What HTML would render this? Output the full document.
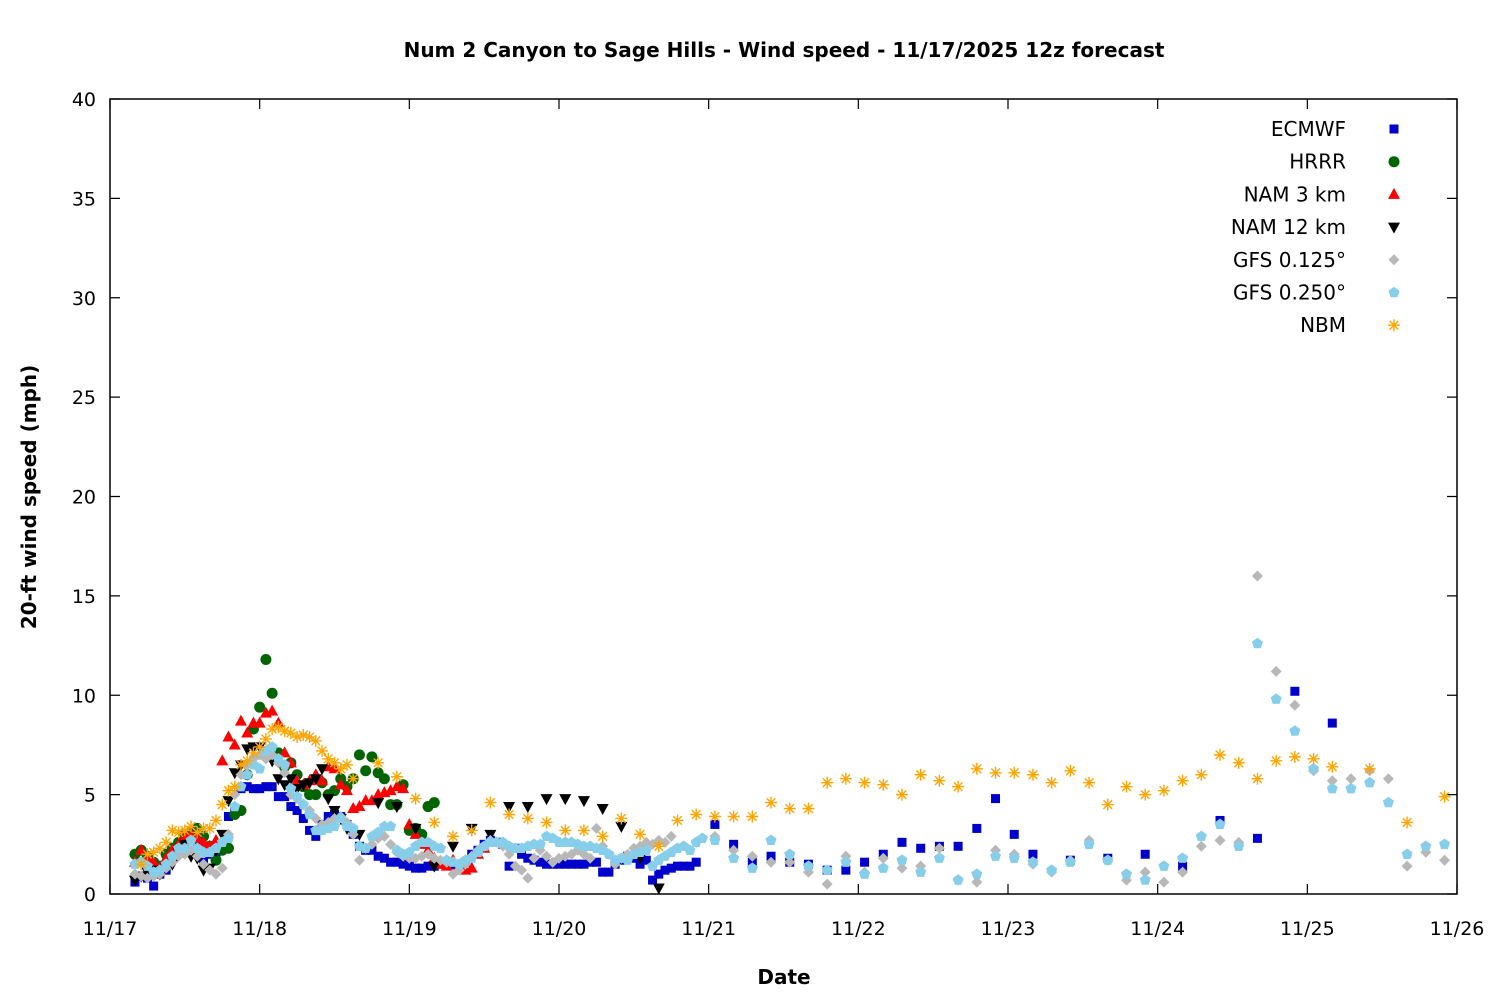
<!DOCTYPE html>
<html><head><meta charset="utf-8"><style>
body{margin:0;background:#fff}
svg{font-family:"DejaVu Sans","Liberation Sans",sans-serif}
</style></head><body>
<svg id="c" width="1500" height="1000" viewBox="0 0 1500 1000">
<rect width="1500" height="1000" fill="#fff"/>
<text x="784" y="57" text-anchor="middle" font-size="20" font-weight="bold">Num 2 Canyon to Sage Hills - Wind speed - 11/17/2025 12z forecast</text>
<text transform="translate(36,497) rotate(-90)" text-anchor="middle" font-size="20" font-weight="bold">20-ft wind speed (mph)</text>
<text x="784" y="984" text-anchor="middle" font-size="20" font-weight="bold">Date</text>
<g id="axes"></g>
<g id="marks"></g>
<g id="legend"></g>
<rect x="110" y="99" width="1347" height="795" fill="none" stroke="#000" stroke-width="1.5"/>
</svg>
<script>
const yTicks=[0,5,10,15,20,25,30,35,40];
const xTickLabels=["11/17","11/18","11/19","11/20","11/21","11/22","11/23","11/24","11/25","11/26"];
const seriesNames=["ECMWF","HRRR","NAM 3 km","NAM 12 km","GFS 0.125°","GFS 0.250°","NBM"];
// each segment: start hour, step hours, values (mph)
const ecmwfS1=[.6,.9,.8,.4,1.0,1.2,1.9,2.2,2.6,2.7,2.5,1.6,2.0,2.1,2.5,3.9,4.2,5.3,5.4,5.3,5.3,5.4,5.4,4.9,4.9,4.4,4.2,3.8,3.2,2.9,3.5,3.9,4.0,3.9,3.5,3.0,2.4,2.2,2.2,1.9,1.8,1.6,1.6,1.5,1.4,1.3,1.3,1.4,1.4,1.5,1.6,1.4,1.5,1.6,2.0,2.2,2.5,2.7,2.6,2.5,1.4,2.3,2.0,1.8,1.7,1.6,1.5,1.5,1.5,1.5,1.5,1.5,1.5,1.6,1.6,1.1,1.1,1.5,1.7,1.9,1.8,1.5,1.7,.7,1.0,1.2,1.3,1.4,1.4,1.4,1.6];
const ecmwfS2=[3.5,2.5,1.6,1.9,1.6,1.5,1.2,1.2,1.6,2.0,2.6,2.3,2.4,2.4,3.3,4.8,3.0,2.0];
const ecmwfS3=[1.7,1.8,2.0,1.4,3.7,2.8,10.2,8.6];
const hrrrS1=[2.0,2.2,1.9,1.6,1.4,2.0,2.3,2.6,3.0,3.1,3.3,2.9,2.4,1.7,2.2,2.3,4.0,4.2,6.0,8.3,9.4,11.8,10.1,7.1,6.4,6.6,6.0,5.4,5.0,5.0,5.6,5.0,5.2,5.8,5.4,5.8,7.0,6.2,6.9,6.1,5.8,4.5,4.5,5.5,3.2,3.3,3.0,4.4,4.6];
const nam3S1=[1.6,2.2,1.8,1.6,1.3,1.8,2.2,2.5,2.9,3.0,2.8,2.6,2.4,2.7,6.7,7.9,7.5,8.7,8.1,8.6,8.6,9.1,9.2,8.6,7.1,6.6,5.7,5.5,5.7,6.0,5.7,6.4,6.3,5.5,5.2,4.3,4.4,4.7,4.7,5.0,5.1,5.2,5.4,5.3,3.5,3.0,2.5,2.2,1.8,1.5,1.4,1.7,1.4,1.2,1.3,2.0,2.3];
const nam12S1=[.7,.9,1.1,1.2,1.0,1.3,1.5,2.1,2.5,1.9,1.8,1.2,1.3,2.2,3.0,4.7,6.1,6.5,7.3,7.4,7.4,7.0,6.7,5.8,5.5,5.8,5.3,5.5,5.6,5.8,6.3,4.8,4.2,3.8,3.3];
const nam12S2=[3.0,4.6,4.4,3.3,1.4,2.4,3.3,3.0,4.4,4.4,4.8,4.8,4.7,4.3,3.4,1.8,0.3];
const gfs125S1=[1.0,0.9,0.8,0.9,1.0,1.3,1.6,1.9,2.0,2.2,1.9,1.5,1.2,1.0,1.3,3.0,5.0,6.0,6.5,6.8,7.0,6.8,7.0,6.6,6.1,5.0,4.8,4.5,4.2,3.8,3.5,3.6,3.8,3.9,3.6,3.0,1.7,2.3,2.5,2.8,2.9,2.5,2.1,1.9,1.8,1.8,1.9,2.0,1.8,1.7,1.6,1.0,1.2,1.5,1.9,2.2,2.4,2.7,2.6,2.4,2.0,1.4,1.2,0.8,1.8,2.2,1.9,1.6,1.8,1.9,2.0,2.2,2.0,1.8,3.3,2.4,2.0,1.5,1.8,2.0,2.3,2.4,2.6,2.5,2.7,2.6,2.9];
const gfs125S2=[2.6,2.9,2.2,1.9,1.6,1.6,1.1,0.5,1.9,1.1,1.8,1.3,1.4,2.3,0.7,0.6,2.2,2.0,1.5,1.1,1.7,2.7,1.7,0.7,1.1,0.6,1.1,2.4,2.7,2.6,16.0,11.2,9.5,6.2,5.7,5.8,6.2,5.8,1.4,2.1,1.7];
const gfs25S1=[1.5,1.6,1.4,1.1,1.2,1.5,1.9,2.3,2.3,2.7,2.3,2.1,2.1,2.3,2.6,2.8,4.4,5.4,6.0,6.5,6.3,7.2,7.4,6.8,6.5,5.3,4.9,4.5,4.0,3.2,3.2,3.3,3.4,3.8,3.4,3.3,2.4,2.3,2.9,3.1,3.4,3.4,2.2,2.0,2.1,2.4,2.6,2.6,2.4,2.3,1.7,1.6,1.5,1.7,1.8,2.1,2.4,2.6,2.6,2.6,2.4,2.3,2.3,2.4,2.5,2.5,2.9,2.8,2.6,2.6,2.6,2.5,2.4,2.4,2.3,2.2,2.0,1.7,1.8,1.7,2.0,2.1,2.2,1.4,1.7,1.9,2.1,2.3,2.4,2.2,2.6,2.8];
const gfs25S2=[2.7,1.8,1.3,2.7,2.0,1.4,1.2,1.6,1.0,1.3,1.7,1.1,1.8,0.7,1.0,1.9,1.8,1.6,1.2,1.6,2.5,1.7,1.0,0.7,1.4,1.8,2.9,3.5,2.4,12.6,9.8,8.2,6.3,5.3,5.3,5.6,4.6,2.0,2.4,2.5];
const nbmS1=[1.5,2.0,2.1,2.3,2.6,3.2,3.1,3.2,3.4,3.1,3.3,3.3,3.7,4.5,5.2,5.4,6.5,6.7,7.1,7.4,7.8,8.3,8.4,8.2,8.1,7.9,8.0,7.9,7.7,7.2,6.8,6.6,6.3,6.5,5.8];
const nbmS2=[6.6,5.9,4.8,3.6,2.9,3.2,4.6,4.0,3.8,3.6,3.2,3.2,2.9,3.8,3.0,2.4,3.7,4.0,3.9,3.9,3.9,4.6,4.3,4.3,5.6,5.8,5.6,5.5,5.0,6.0,5.7,5.4,6.3,6.1,6.1,6.0,5.6,6.2,5.6,4.5,5.4,5.0,5.2,5.7,6.0,7.0,6.6,5.8,6.7,6.9,6.8,6.4];
const nbmS3=[6.3,3.6,4.9];

const series=[
 {name:"ecmwf",shape:"square",color:"#0000cc",segs:[[4,1,ecmwfS1],[97,3,ecmwfS2],[154,6,ecmwfS3]]},
 {name:"hrrr",shape:"circle",color:"#006400",segs:[[4,1,hrrrS1]]},
 {name:"nam3",shape:"tri",color:"#ff0000",segs:[[4,1,nam3S1]]},
 {name:"nam12",shape:"itri",color:"#000000",segs:[[4,1,nam12S1],[40,3,nam12S2]]},
 {name:"gfs125",shape:"diamond",color:"#b8b8b8",segs:[[4,1,gfs125S1],[94,3,gfs125S2]]},
 {name:"gfs25",shape:"pent",color:"#87ceeb",segs:[[4,1,gfs25S1],[97,3,gfs25S2]]},
 {name:"nbm",shape:"star",color:"#ffa500",segs:[[5,1,nbmS1],[43,3,nbmS2],[202,6,nbmS3]]}
];
const NS="http://www.w3.org/2000/svg";
const X0=110,X1=1457,Y0=894,Y1=99;
const xs=h=>X0+(X1-X0)*h/216;
const ys=v=>Y0-(Y0-Y1)*v/40;
function mk(t,a,p){const e=document.createElementNS(NS,t);for(const k in a)e.setAttribute(k,a[k]);p.appendChild(e);return e;}
const axes=document.getElementById('axes');
yTicks.forEach(v=>{const y=ys(v);
 const l=mk('path',{d:`M${X0} ${y}h10M${X1} ${y}h-10`,stroke:'#000','stroke-width':1.2},axes);
 
 
 const t=mk('text',{x:96,y:y+7,'text-anchor':'end','font-size':19},axes);t.textContent=v;
 
 
});
xTickLabels.forEach((s,i)=>{const x=xs(i*24);
 const l=mk('path',{d:`M${x} ${Y0}v-10M${x} ${Y1}v10`,stroke:'#000','stroke-width':1.2},axes);
 
 
 const t=mk('text',{x:x,y:935,'text-anchor':'middle','font-size':19},axes);t.textContent=s;
 
 
});
function marker(shape,color,x,y,p){
 let e;
 if(shape==='square')e=mk('rect',{x:x-4.5,y:y-4.5,width:9,height:9,fill:color},p);
 else if(shape==='circle')e=mk('circle',{cx:x,cy:y,r:5.5,fill:color},p);
 else if(shape==='tri')e=mk('path',{d:`M${x} ${y-6.5}L${x+6} ${y+4.5}L${x-6} ${y+4.5}Z`,fill:color},p);
 else if(shape==='itri')e=mk('path',{d:`M${x} ${y+6.5}L${x+6} ${y-4.5}L${x-6} ${y-4.5}Z`,fill:color},p);
 else if(shape==='diamond')e=mk('path',{d:`M${x} ${y-5.5}L${x+5.5} ${y}L${x} ${y+5.5}L${x-5.5} ${y}Z`,fill:color},p);
 else if(shape==='pent'){let d='';for(let k=0;k<5;k++){const a=-Math.PI/2+k*2*Math.PI/5;d+=(k?'L':'M')+(x+5.8*Math.cos(a))+' '+(y+5.8*Math.sin(a));}e=mk('path',{d:d+'Z',fill:color},p);}
 else {e=mk('path',{d:`M${x-6} ${y}h12M${x} ${y-6}v12M${x-4.3} ${y-4.3}l8.6 8.6M${x-4.3} ${y+4.3}l8.6 -8.6`,stroke:color,'stroke-width':1.4,fill:'none'},p);}
 return e;
}
const marks=document.getElementById('marks');
series.forEach(s=>{
 const g=mk('g',{},marks);
 
 
 s.segs.forEach(([st,step,vals])=>vals.forEach((v,i)=>{
  const m=marker(s.shape,s.color,xs(st+i*step),ys(v),g);
  
  
 }));
});
const leg=document.getElementById('legend');
series.forEach((s,i)=>{const y=129+i*32.7;
 const g=mk('g',{},leg);
 
 
 const t=mk('text',{x:1346,y:y+7,'text-anchor':'end','font-size':20},g);t.textContent=seriesNames[i];
 marker(s.shape,s.color,1394,y,g);
});
</script>
</body></html>
